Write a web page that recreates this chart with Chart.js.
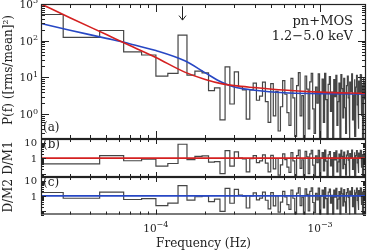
<!DOCTYPE html>
<html>
<head>
<meta charset="utf-8">
<script src="https://cdn.jsdelivr.net/npm/chart.js@4.4.0/dist/chart.umd.min.js"></script>
<style>
  html, body { margin: 0; padding: 0; background: #fff; }
  #wrap { position: relative; width: 370px; height: 250px; }
  #wrap canvas { position: absolute; left: 0; top: 0; }
</style>
</head>
<body>
<div id="wrap">
  <canvas id="psd" width="370" height="250"></canvas>
  <canvas id="res1" width="370" height="250"></canvas>
  <canvas id="res2" width="370" height="250"></canvas>
</div>
<script>
// frequency resolution of the periodogram (Hz); bin k is centred on k * binWidth
const binWidth = 1.82e-5;

// P(f) in (rms/mean)^2 per bin, pn+MOS 1.2-5.0 keV
const power = [
  518, 123, 190, 50, 41, 10.9, 12.9, 142, 11.6, 15,
  13.4, 4.4, 5.2, 0.7, 19.5, 1.9, 14.3, 5.6, 4.6, 0.74,
  4.6, 7.0, 2.4, 3.1, 7.5, 2.2, 0.6, 6.8, 0.9, 4.2,
  0.35, 1.6, 8.2, 3.5, 1.1, 0.5, 9.5, 2.8, 0.25, 6.0,
  13.5, 0.9, 3.2, 0.18, 11.0, 4.8, 0.4, 7.6, 13.0, 1.4,
  0.3, 5.5, 2.0, 12.5, 0.15, 3.8, 9.0, 0.6, 13.0, 2.5,
  0.22, 6.5, 10.5, 1.2, 4.0, 0.12, 8.8, 3.0, 11.5, 0.5,
  2.2, 7.0, 0.2, 12.0, 5.0, 0.8, 9.5, 1.5, 0.3, 6.0,
  11.0, 2.8, 0.14, 7.5, 4.2, 12.5, 0.7, 3.3, 9.0, 0.25,
  5.5, 11.5, 1.8, 0.4, 8.0, 3.6, 12.0, 0.9, 6.2, 0.16,
  10.0, 2.6, 7.2, 4.5
];

// data / model 1 (red) per bin
const ratioM1 = [
  0.42, 0.42, 1.47, 0.68, 0.87, 0.3, 0.45, 8.0, 0.8, 1.3,
  1.4, 0.55, 0.6, 0.1, 3.1, 0.3, 2.55, 1.0, 0.88, 0.13,
  0.94, 1.46, 0.51, 0.67, 1.63, 0.48, 0.13, 1.51, 0.2, 0.95,
  0.08, 0.37, 1.91, 0.81, 0.26, 0.12, 2.26, 0.67, 0.06, 1.46,
  3.29, 0.22, 0.79, 0.044, 2.72, 1.2, 0.1, 1.9, 3.25, 0.35,
  0.076, 1.39, 0.51, 3.16, 0.038, 0.97, 2.31, 0.15, 3.33, 0.64,
  0.056, 1.67, 2.69, 0.31, 1.04, 0.031, 2.29, 0.78, 2.99, 0.13,
  0.58, 1.84, 0.053, 3.16, 1.32, 0.21, 2.5, 0.39, 0.079, 1.58,
  2.93, 0.75, 0.037, 2.0, 1.12, 3.33, 0.19, 0.88, 2.4, 0.067,
  1.49, 3.11, 0.49, 0.11, 2.16, 0.97, 3.24, 0.24, 1.68, 0.043,
  2.7, 0.7, 1.95, 1.22
];

// data / model 2 (blue) per bin
const ratioM2 = [
  1.67, 0.7, 1.8, 0.58, 0.66, 0.23, 0.34, 4.7, 0.53, 0.88,
  1.0, 0.42, 0.61, 0.097, 3.15, 0.33, 2.7, 1.12, 0.96, 0.16,
  1.02, 1.59, 0.55, 0.72, 1.76, 0.52, 0.14, 1.66, 0.22, 1.04,
  0.085, 0.39, 2.0, 0.85, 0.27, 0.13, 2.37, 0.7, 0.063, 1.53,
  3.45, 0.23, 0.83, 0.046, 2.86, 1.26, 0.105, 2.0, 3.4, 0.37,
  0.08, 1.46, 0.54, 3.3, 0.04, 1.02, 2.42, 0.16, 3.5, 0.67,
  0.059, 1.75, 2.82, 0.33, 1.09, 0.033, 2.4, 0.82, 3.14, 0.14,
  0.61, 1.93, 0.056, 3.3, 1.39, 0.22, 2.63, 0.41, 0.083, 1.66,
  3.08, 0.79, 0.039, 2.1, 1.18, 3.5, 0.2, 0.92, 2.52, 0.07,
  1.56, 3.27, 0.51, 0.12, 2.27, 1.02, 3.4, 0.25, 1.76, 0.045,
  2.84, 0.74, 2.05, 1.28
];

// best-fit models
const modelFreq = [2e-5, 3e-5, 5e-5, 7e-5, 1e-4, 1.5e-4, 2e-4, 2.5e-4, 3e-4, 4e-4, 6e-4, 1e-3, 1.9e-3];
const model1 = [1000, 425, 147, 73, 35, 14, 8.8, 6.8, 6.0, 5.3, 4.55, 4.0, 3.7];
const model2 = [295, 194, 116, 82, 54, 28.4, 13.4, 7.5, 5.5, 4.5, 3.84, 3.65, 3.54];

const arrowFreq = 1.45e-4;
const arrowFrom = 870;
const arrowTo = 365;

const xMin = 2e-5;
const xMax = 1.902e-3;

const serif = '"DejaVu Serif", "Liberation Serif", serif';
const ink = '#222';
const histColor = '#454545';
const red = '#d42020';
const blue = '#2747c4';

function steps(values) {
  const pts = [];
  values.forEach((v, i) => {
    const f = (i + 1) * binWidth;
    pts.push({ x: f - binWidth / 2, y: v }, { x: f + binWidth / 2, y: v });
  });
  return pts;
}

function curve(freqs, vals) {
  return freqs.map((f, i) => ({ x: f, y: vals[i] }));
}

function logTicks(min, max) {
  const major = [], minor = [];
  for (let e = Math.floor(Math.log10(min)); e <= Math.ceil(Math.log10(max)); e++) {
    for (let m = 1; m < 10; m++) {
      const v = m * Math.pow(10, e);
      if (v < min * 0.999 || v > max * 1.001) continue;
      (m === 1 ? major : minor).push(v);
    }
  }
  return { major, minor };
}

function drawPow(ctx, base, exp, x, y, align, size) {
  const small = Math.round(size * 0.72);
  ctx.font = `${size}px ${serif}`;
  const wb = ctx.measureText(base).width;
  ctx.font = `${small}px ${serif}`;
  const we = ctx.measureText(exp).width;
  const left = align === 'right' ? x - wb - we : align === 'center' ? x - (wb + we) / 2 : x;
  ctx.textAlign = 'left';
  ctx.textBaseline = 'alphabetic';
  ctx.font = `${size}px ${serif}`;
  ctx.fillText(base, left, y);
  ctx.font = `${small}px ${serif}`;
  ctx.fillText(exp, left + wb, y - size * 0.45);
}

function drawFrame(chart, majorLen, minorLen) {
  const { ctx, chartArea: a, scales: { x, y } } = chart;
  const xt = logTicks(x.min, x.max);
  const yt = logTicks(y.min, y.max);
  ctx.save();
  ctx.strokeStyle = ink;
  ctx.lineWidth = 1.2;
  ctx.strokeRect(a.left + 0.5, a.top + 0.5, a.width - 1, a.height - 1);
  ctx.lineWidth = 1;
  ctx.beginPath();
  const xTick = (v, len) => {
    const px = Math.round(x.getPixelForValue(v)) + 0.5;
    ctx.moveTo(px, a.bottom); ctx.lineTo(px, a.bottom - len);
    ctx.moveTo(px, a.top); ctx.lineTo(px, a.top + len);
  };
  const yTick = (v, len) => {
    const py = Math.round(y.getPixelForValue(v)) + 0.5;
    ctx.moveTo(a.left, py); ctx.lineTo(a.left + len, py);
    ctx.moveTo(a.right, py); ctx.lineTo(a.right - len, py);
  };
  xt.major.forEach(v => xTick(v, majorLen));
  xt.minor.forEach(v => xTick(v, minorLen));
  yt.major.forEach(v => yTick(v, majorLen));
  yt.minor.forEach(v => yTick(v, minorLen));
  ctx.stroke();
  ctx.restore();
}

function vertText(ctx, text, x, y, size) {
  ctx.save();
  ctx.translate(x, y);
  ctx.rotate(-Math.PI / 2);
  ctx.font = `${size}px ${serif}`;
  ctx.textAlign = 'center';
  ctx.textBaseline = 'middle';
  ctx.fillText(text, 0, 0);
  ctx.restore();
}

function baseOptions(padding, yMin, yMax) {
  return {
    responsive: false,
    animation: false,
    devicePixelRatio: 1,
    layout: { padding },
    plugins: { legend: { display: false }, tooltip: { enabled: false } },
    elements: { point: { radius: 0 } },
    scales: {
      x: { type: 'logarithmic', min: xMin, max: xMax, bounds: 'data', display: false },
      y: { type: 'logarithmic', min: yMin, max: yMax, bounds: 'data', display: false },
    },
  };
}

// ---- panel (a): power spectrum with both models
new Chart(document.getElementById('psd'), {
  type: 'line',
  data: {
    datasets: [
      { data: curve(modelFreq, model1), borderColor: red, borderWidth: 1.6, cubicInterpolationMode: 'monotone', clip: 0, order: 1 },
      { data: curve(modelFreq, model2), borderColor: blue, borderWidth: 1.6, cubicInterpolationMode: 'monotone', clip: 0, order: 2 },
      { data: steps(power), borderColor: histColor, borderWidth: 1.2, tension: 0, clip: 0, order: 3 },
    ],
  },
  options: baseOptions({ left: 41, right: 4, top: 4, bottom: 111 }, 0.212, 1000),
  plugins: [{
    id: 'panelA',
    afterDatasetsDraw(chart) {
      const { ctx, chartArea: a, scales: { x, y } } = chart;
      drawFrame(chart, 8, 4);
      ctx.save();
      ctx.fillStyle = ink;
      [1, 10, 100, 1000].forEach((v, i) => {
        drawPow(ctx, '10', String(i), 38, y.getPixelForValue(v) + 4, 'right', 10.5);
      });
      vertText(ctx, 'P(f) ([rms/mean]\u00b2)', 9, 70, 12);
      ctx.font = `13px ${serif}`;
      ctx.textAlign = 'right';
      ctx.textBaseline = 'alphabetic';
      ctx.fillText('pn+MOS', a.right - 13, 25);
      ctx.fillText('1.2\u22125.0 keV', a.right - 13, 40);
      ctx.textAlign = 'left';
      ctx.font = `12px ${serif}`;
      ctx.fillText('(a)', a.left + 2, a.bottom - 8);
      // arrow marking the peak bin
      const ax = Math.round(x.getPixelForValue(arrowFreq)) + 0.5;
      const y0 = y.getPixelForValue(arrowFrom), y1 = y.getPixelForValue(arrowTo);
      ctx.strokeStyle = ink;
      ctx.lineWidth = 1;
      ctx.beginPath();
      ctx.moveTo(ax, y0); ctx.lineTo(ax, y1);
      ctx.moveTo(ax - 3.5, y1 - 4.5); ctx.lineTo(ax, y1); ctx.lineTo(ax + 3.5, y1 - 4.5);
      ctx.stroke();
      ctx.restore();
    },
  }],
});

function residualChart(id, ratios, color, padding, label, tag, withAxis) {
  new Chart(document.getElementById(id), {
    type: 'line',
    data: {
      datasets: [
        { data: curve([xMin, xMax], [1, 1]), borderColor: color, borderWidth: 1.6, clip: 0, order: 1 },
        { data: steps(ratios), borderColor: histColor, borderWidth: 1.2, tension: 0, clip: 0, order: 2 },
      ],
    },
    options: baseOptions(padding, 0.06, 17.5),
    plugins: [{
      id: 'res_' + id,
      afterDatasetsDraw(chart) {
        const { ctx, chartArea: a, scales: { x, y } } = chart;
        drawFrame(chart, 5, 3);
        ctx.save();
        ctx.fillStyle = ink;
        ctx.font = `10px ${serif}`;
        ctx.textAlign = 'right';
        ctx.textBaseline = 'middle';
        ctx.fillText('10', 37, y.getPixelForValue(10) + 1);
        ctx.fillText('1', 37, y.getPixelForValue(1) + 1);
        vertText(ctx, label, 9, (a.top + a.bottom) / 2, 12);
        ctx.font = `12px ${serif}`;
        ctx.textAlign = 'left';
        ctx.textBaseline = 'alphabetic';
        ctx.fillText(tag, a.left + 2, a.top + 9);
        if (withAxis) {
          [[1e-4, '\u22124'], [1e-3, '\u22123']].forEach(([v, e]) => {
            drawPow(ctx, '10', e, x.getPixelForValue(v), 232, 'center', 10.5);
          });
          ctx.font = `12px ${serif}`;
          ctx.textAlign = 'center';
          ctx.fillText('Frequency (Hz)', (a.left + a.right) / 2, 247);
        }
        ctx.restore();
      },
    }],
  });
}

residualChart('res1', ratioM1, red, { left: 41, right: 4, top: 139, bottom: 73 }, 'D/M1', '(b)', false);
residualChart('res2', ratioM2, blue, { left: 41, right: 4, top: 177, bottom: 35.5 }, 'D/M2', '(c)', true);
</script>
</body>
</html>
